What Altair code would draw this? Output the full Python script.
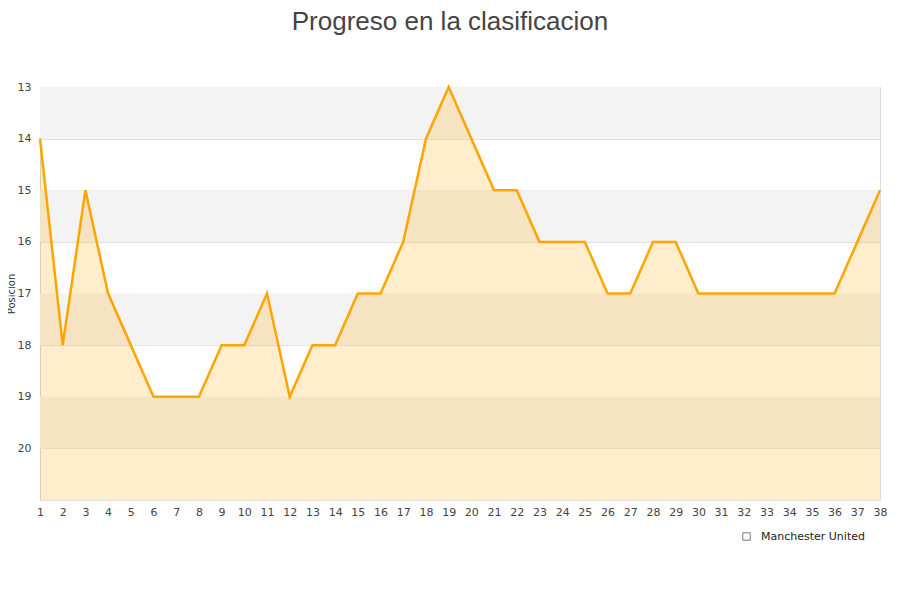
import altair as alt
import pandas as pd

jornadas = list(range(1, 39))
posiciones = [14, 18, 15, 17, 18, 19, 19, 19, 18, 18,
              17, 19, 18, 18, 17, 17, 16, 14, 13, 14,
              15, 15, 16, 16, 16, 17, 17, 16, 16, 17,
              17, 17, 17, 17, 17, 17, 16, 15]
equipo = "Manchester United"
band_starts = [13, 15, 17, 19]
y_ticks = [13, 14, 15, 16, 17, 18, 19, 20]

df = pd.DataFrame({"jornada": jornadas, "pos": posiciones, "equipo": equipo})
bands = pd.DataFrame({"y": band_starts, "y2": [b + 1 for b in band_starts]})

W, H = 840, 413
xscale = alt.Scale(domain=[1, 38], nice=False, zero=False)
yscale = alt.Scale(domain=[13, 21], reverse=True, nice=False, zero=False)

x_axis = alt.Axis(values=jornadas, title=None, ticks=False, domain=False,
                  grid=False, labelColor="#444", labelFontSize=11,
                  labelFont="DejaVu Sans", labelPadding=6, labelFlush=False,
                  labelOverlap=False)
y_axis = alt.Axis(values=y_ticks, title="Posicion", ticks=False,
                  domainColor="#d8d8d8", grid=True, gridColor="#e0e0e0",
                  labelColor="#444", labelFontSize=11, labelFont="DejaVu Sans",
                  labelPadding=9, titleFontSize=10, titleFont="DejaVu Sans",
                  titleColor="#333", titleFontWeight="normal", titleX=-24,
                  titleY=H / 2, titleBaseline="bottom", titleAngle=270,
                  labelBaseline="middle")

X = alt.X("jornada:Q", scale=xscale, axis=x_axis)
Y = alt.Y("pos:Q", scale=yscale, axis=y_axis)

band_layer = alt.Chart(bands).mark_rect(fill="#f3f3f3").encode(
    x=alt.value(0), x2=alt.value(W),
    y=alt.Y("y:Q", scale=yscale, axis=y_axis), y2="y2:Q",
)

area = alt.Chart(df).mark_area(opacity=0.2, color="#ffa500", interpolate="linear").encode(
    x=X, y=Y, y2=alt.datum(21),
)

line = alt.Chart(df).mark_line(color="#ffa500", strokeWidth=2.5).encode(x=X, y=Y)

legend_pts = alt.Chart(df.head(1)).mark_point(opacity=0).encode(
    x=X, y=Y,
    shape=alt.Shape("equipo:N", scale=alt.Scale(range=["square"]),
                    legend=alt.Legend(title=None, orient="none", legendX=701, legendY=444,
                                      symbolSize=55, symbolStrokeColor="#777",
                                      symbolStrokeWidth=1, symbolFillColor="#fde9c6",
                                      symbolOpacity=1, labelFont="DejaVu Sans",
                                      labelFontSize=11, labelColor="#222", labelOffset=9)),
)

chart = alt.layer(band_layer, area, line, legend_pts).properties(
    width=W, height=H,
    title=alt.TitleParams("Progreso en la clasificacion", font="Liberation Sans",
                          fontSize=26, fontWeight="normal", color="#444",
                          anchor="middle", offset=0),
    autosize=alt.AutoSizeParams(type="none"),
    padding={"left": 32, "top": 79, "right": 10, "bottom": 70},
).configure_view(stroke="#dddddd").configure_title(dy=-46, dx=-10)

chart.save("out.html", embed_options={"renderer": "svg", "actions": False})
